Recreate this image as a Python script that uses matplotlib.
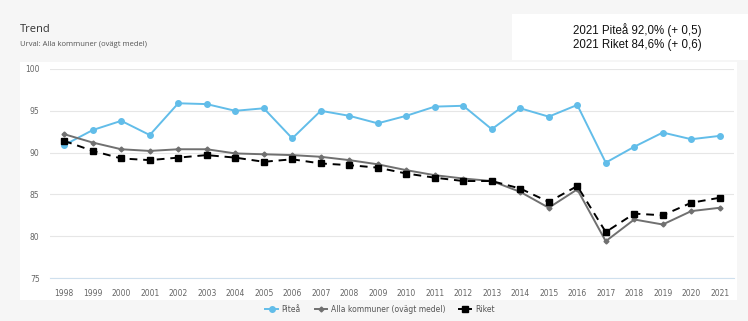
import matplotlib
matplotlib.use("Agg")
import matplotlib.pyplot as plt
from matplotlib.patches import Rectangle
from matplotlib.lines import Line2D

years = list(range(1998, 2022))
pitea = [90.9, 92.7, 93.8, 92.1, 95.9, 95.8, 95.0, 95.3, 91.7, 95.0, 94.4, 93.5,
         94.4, 95.5, 95.6, 92.8, 95.3, 94.3, 95.7, 88.8, 90.7, 92.4, 91.6, 92.0]
alla = [92.2, 91.2, 90.4, 90.2, 90.4, 90.4, 89.9, 89.8, 89.7, 89.5, 89.1, 88.6,
        87.9, 87.3, 86.9, 86.6, 85.3, 83.4, 85.6, 79.4, 82.0, 81.4, 83.0, 83.4]
riket = [91.4, 90.2, 89.3, 89.1, 89.4, 89.7, 89.4, 88.9, 89.2, 88.7, 88.5, 88.2,
         87.5, 87.0, 86.6, 86.6, 85.7, 84.1, 86.0, 80.5, 82.7, 82.5, 84.0, 84.6]
yticks = [75, 80, 85, 90, 95, 100]
series_names = ["Piteå", "Alla kommuner (ovägt medel)", "Riket"]

W, H = 748, 321
fig = plt.figure(figsize=(W / 100, H / 100), dpi=100)
fig.patch.set_facecolor("#f6f6f6")

# white panels
fig.patches.append(Rectangle((20 / W, (H - 300) / H), (737 - 20) / W, (300 - 62) / H,
                             transform=fig.transFigure, facecolor="white", edgecolor="none", zorder=-2))
fig.patches.append(Rectangle((512 / W, (H - 60) / H), (748 - 512) / W, (60 - 14) / H,
                             transform=fig.transFigure, facecolor="white", edgecolor="none", zorder=-2))

ax = fig.add_axes([50 / W, (H - 278) / H, (734 - 50) / W, (278 - 69) / H])
ax.set_zorder(2)
ax.set_facecolor("none")
ax.set_xlim(1997.5, 2021.5)
ax.set_ylim(75, 100)

ax.plot(years, pitea, color="#62bde9", lw=1.4, marker="o", ms=4, zorder=3)
ax.plot(years, alla, color="#707070", lw=1.4, marker="D", ms=2.5, zorder=3)
ax.plot(years, riket, color="black", lw=1.4, ls=(0, (4, 3)), marker="s", ms=5, zorder=4)

ax.set_yticks(yticks)
ax.set_xticks(years)
ax.tick_params(axis="both", length=0, labelsize=5.5, labelcolor="#666666")
ax.tick_params(axis="x", pad=8)
ax.tick_params(axis="y", pad=7.5)
ax.grid(axis="y", color="#e6e6e6", lw=0.8)
for s in ["top", "right", "left"]:
    ax.spines[s].set_visible(False)
ax.spines["bottom"].set_color("#cfe0ee")
ax.spines["bottom"].set_linewidth(0.8)

handles = [
    Line2D([], [], color="#62bde9", lw=1.4, marker="o", ms=4),
    Line2D([], [], color="#707070", lw=1.4, marker="D", ms=2.5),
    Line2D([], [], color="black", lw=1.4, marker="s", ms=5),
]
leg = fig.legend(handles, series_names, loc="center", bbox_to_anchor=(0.508, (H - 309) / H),
                 ncol=3, frameon=False, fontsize=5.5, labelcolor="#555555",
                 handlelength=1.6, columnspacing=1.8, handletextpad=0.5)
leg.set_zorder(3)

fig.text(20 / W, (H - 29) / H, "Trend", fontsize=8, color="#333333", va="center",
         family="Open Sans")
fig.text(20 / W, (H - 44) / H, "Urval: Alla kommuner (ovägt medel)", fontsize=5.5,
         color="#555555", va="center", family="Open Sans")

fig.text(637 / W, (H - 30) / H, "2021 Piteå 92,0% (+ 0,5)", fontsize=8.3,
         family="Liberation Sans", ha="center", va="center", color="#111111")
fig.text(637 / W, (H - 45) / H, "2021 Riket 84,6% (+ 0,6)", fontsize=8.3,
         family="Liberation Sans", ha="center", va="center", color="#111111")

fig.savefig("out.png", dpi=100)
